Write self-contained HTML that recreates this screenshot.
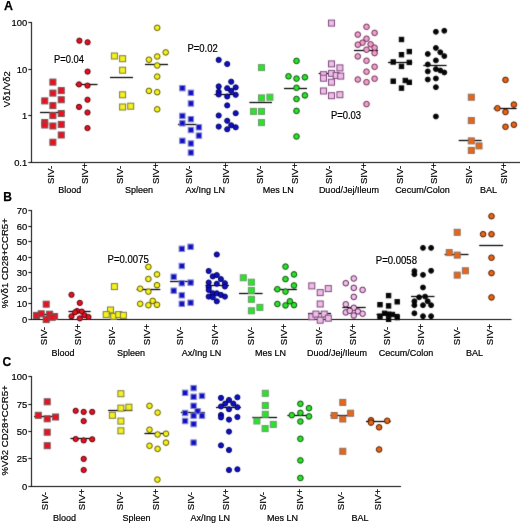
<!DOCTYPE html>
<html><head><meta charset="utf-8"><style>
html,body{margin:0;padding:0;background:#fff;}
body{width:520px;height:523px;overflow:hidden;font-family:"Liberation Sans", sans-serif;}
svg{display:block;}
</style></head><body>
<svg width="520" height="523" viewBox="0 0 520 523" font-family='"Liberation Sans", sans-serif'>
<defs><filter id="bl" x="0" y="0" width="520" height="523" filterUnits="userSpaceOnUse" color-interpolation-filters="sRGB"><feConvolveMatrix order="3" kernelMatrix="0.0144 0.0912 0.0144 0.0912 0.5776 0.0912 0.0144 0.0912 0.0144" divisor="1" edgeMode="duplicate" preserveAlpha="true"/></filter><filter id="tx" x="0" y="0" width="520" height="523" filterUnits="userSpaceOnUse" color-interpolation-filters="sRGB"><feConvolveMatrix order="3" kernelMatrix="0.0000 0.0000 0.0000 0.0000 1.0000 0.0000 0.0000 0.0000 0.0000" divisor="1" edgeMode="none" preserveAlpha="false"/></filter></defs>
<g filter="url(#bl)">
<rect width="520" height="523" fill="#ffffff"/>
<line x1="31.5" y1="22.0" x2="31.5" y2="163.0" stroke="#000000" stroke-width="1.0"/>
<line x1="31.0" y1="162.5" x2="520" y2="162.5" stroke="#000000" stroke-width="1.0"/>
<line x1="28.3" y1="22.5" x2="31.5" y2="22.5" stroke="#000000" stroke-width="1.0"/>
<line x1="28.3" y1="69.5" x2="31.5" y2="69.5" stroke="#000000" stroke-width="1.0"/>
<line x1="28.3" y1="115.5" x2="31.5" y2="115.5" stroke="#000000" stroke-width="1.0"/>
<line x1="28.3" y1="162.5" x2="31.5" y2="162.5" stroke="#000000" stroke-width="1.0"/>
<line x1="31.5" y1="210.0" x2="31.5" y2="320.0" stroke="#000000" stroke-width="1.0"/>
<line x1="31.0" y1="319.5" x2="511.5" y2="319.5" stroke="#000000" stroke-width="1.0"/>
<line x1="28.3" y1="319.5" x2="31.5" y2="319.5" stroke="#000000" stroke-width="1.0"/>
<line x1="28.3" y1="303.5" x2="31.5" y2="303.5" stroke="#000000" stroke-width="1.0"/>
<line x1="28.3" y1="288.5" x2="31.5" y2="288.5" stroke="#000000" stroke-width="1.0"/>
<line x1="28.3" y1="272.5" x2="31.5" y2="272.5" stroke="#000000" stroke-width="1.0"/>
<line x1="28.3" y1="257.5" x2="31.5" y2="257.5" stroke="#000000" stroke-width="1.0"/>
<line x1="28.3" y1="241.5" x2="31.5" y2="241.5" stroke="#000000" stroke-width="1.0"/>
<line x1="28.3" y1="226.5" x2="31.5" y2="226.5" stroke="#000000" stroke-width="1.0"/>
<line x1="28.3" y1="210.5" x2="31.5" y2="210.5" stroke="#000000" stroke-width="1.0"/>
<line x1="31.5" y1="376.0" x2="31.5" y2="487.0" stroke="#000000" stroke-width="1.0"/>
<line x1="31.0" y1="486.5" x2="401" y2="486.5" stroke="#000000" stroke-width="1.0"/>
<line x1="28.3" y1="486.5" x2="31.5" y2="486.5" stroke="#000000" stroke-width="1.0"/>
<line x1="28.3" y1="458.5" x2="31.5" y2="458.5" stroke="#000000" stroke-width="1.0"/>
<line x1="28.3" y1="431.5" x2="31.5" y2="431.5" stroke="#000000" stroke-width="1.0"/>
<line x1="28.3" y1="404.5" x2="31.5" y2="404.5" stroke="#000000" stroke-width="1.0"/>
<line x1="28.3" y1="376.5" x2="31.5" y2="376.5" stroke="#000000" stroke-width="1.0"/>
<line x1="40" y1="112.5" x2="64.4" y2="112.5" stroke="#000000" stroke-width="1.25"/>
<line x1="75.6" y1="84.5" x2="97.5" y2="84.5" stroke="#000000" stroke-width="1.25"/>
<line x1="110" y1="77.5" x2="133" y2="77.5" stroke="#000000" stroke-width="1.25"/>
<line x1="145" y1="64.5" x2="168" y2="64.5" stroke="#000000" stroke-width="1.25"/>
<line x1="178" y1="124.5" x2="197" y2="124.5" stroke="#000000" stroke-width="1.25"/>
<line x1="214.4" y1="94.5" x2="237" y2="94.5" stroke="#000000" stroke-width="1.25"/>
<line x1="249.4" y1="102.5" x2="272" y2="102.5" stroke="#000000" stroke-width="1.25"/>
<line x1="284" y1="88.5" x2="307" y2="88.5" stroke="#000000" stroke-width="1.25"/>
<line x1="318.7" y1="73.5" x2="338" y2="73.5" stroke="#000000" stroke-width="1.25"/>
<line x1="354" y1="50.5" x2="378" y2="50.5" stroke="#000000" stroke-width="1.25"/>
<line x1="388" y1="62.5" x2="412.3" y2="62.5" stroke="#000000" stroke-width="1.25"/>
<line x1="423.3" y1="65.5" x2="446.6" y2="65.5" stroke="#000000" stroke-width="1.25"/>
<line x1="458.7" y1="140.5" x2="481.6" y2="140.5" stroke="#000000" stroke-width="1.25"/>
<line x1="493.7" y1="108.5" x2="516.6" y2="108.5" stroke="#000000" stroke-width="1.25"/>
<rect x="49.90" y="79.10" width="6.0" height="6.0" fill="#ec1020" stroke="#6e5656" stroke-width="1"/>
<rect x="49.90" y="90.10" width="6.0" height="6.0" fill="#ec1020" stroke="#6e5656" stroke-width="1"/>
<rect x="58.25" y="87.60" width="6.0" height="6.0" fill="#ec1020" stroke="#6e5656" stroke-width="1"/>
<rect x="41.75" y="97.90" width="6.0" height="6.0" fill="#ec1020" stroke="#6e5656" stroke-width="1"/>
<rect x="58.25" y="96.75" width="6.0" height="6.0" fill="#ec1020" stroke="#6e5656" stroke-width="1"/>
<rect x="49.90" y="102.60" width="6.0" height="6.0" fill="#ec1020" stroke="#6e5656" stroke-width="1"/>
<rect x="49.90" y="112.60" width="6.0" height="6.0" fill="#ec1020" stroke="#6e5656" stroke-width="1"/>
<rect x="58.25" y="110.50" width="6.0" height="6.0" fill="#ec1020" stroke="#6e5656" stroke-width="1"/>
<rect x="41.75" y="119.50" width="6.0" height="6.0" fill="#ec1020" stroke="#6e5656" stroke-width="1"/>
<rect x="41.75" y="122.00" width="6.0" height="6.0" fill="#ec1020" stroke="#6e5656" stroke-width="1"/>
<rect x="49.90" y="123.00" width="6.0" height="6.0" fill="#ec1020" stroke="#6e5656" stroke-width="1"/>
<rect x="58.25" y="121.40" width="6.0" height="6.0" fill="#ec1020" stroke="#6e5656" stroke-width="1"/>
<rect x="58.25" y="132.00" width="6.0" height="6.0" fill="#ec1020" stroke="#6e5656" stroke-width="1"/>
<rect x="49.90" y="139.25" width="6.0" height="6.0" fill="#ec1020" stroke="#6e5656" stroke-width="1"/>
<circle cx="79.40" cy="40.70" r="2.6" fill="#ec1020" stroke="#500008" stroke-width="1"/>
<circle cx="87.60" cy="42.30" r="2.6" fill="#ec1020" stroke="#500008" stroke-width="1"/>
<circle cx="87.60" cy="71.60" r="2.6" fill="#ec1020" stroke="#500008" stroke-width="1"/>
<circle cx="79.00" cy="84.40" r="2.6" fill="#ec1020" stroke="#500008" stroke-width="1"/>
<circle cx="87.50" cy="85.60" r="2.6" fill="#ec1020" stroke="#500008" stroke-width="1"/>
<circle cx="87.50" cy="99.75" r="2.6" fill="#ec1020" stroke="#500008" stroke-width="1"/>
<circle cx="79.00" cy="106.90" r="2.6" fill="#ec1020" stroke="#500008" stroke-width="1"/>
<circle cx="87.50" cy="112.50" r="2.6" fill="#ec1020" stroke="#500008" stroke-width="1"/>
<circle cx="87.50" cy="128.10" r="2.6" fill="#ec1020" stroke="#500008" stroke-width="1"/>
<rect x="111.40" y="53.00" width="6.0" height="6.0" fill="#f6f21a" stroke="#7a7a40" stroke-width="1"/>
<rect x="119.60" y="55.70" width="6.0" height="6.0" fill="#f6f21a" stroke="#7a7a40" stroke-width="1"/>
<rect x="119.60" y="67.20" width="6.0" height="6.0" fill="#f6f21a" stroke="#7a7a40" stroke-width="1"/>
<rect x="119.60" y="91.80" width="6.0" height="6.0" fill="#f6f21a" stroke="#7a7a40" stroke-width="1"/>
<rect x="119.60" y="104.00" width="6.0" height="6.0" fill="#f6f21a" stroke="#7a7a40" stroke-width="1"/>
<rect x="127.70" y="103.20" width="6.0" height="6.0" fill="#f6f21a" stroke="#7a7a40" stroke-width="1"/>
<circle cx="157.20" cy="27.80" r="2.8" fill="#f6f21a" stroke="#5a5600" stroke-width="1"/>
<circle cx="165.70" cy="52.40" r="2.8" fill="#f6f21a" stroke="#5a5600" stroke-width="1"/>
<circle cx="157.20" cy="56.50" r="2.8" fill="#f6f21a" stroke="#5a5600" stroke-width="1"/>
<circle cx="148.90" cy="59.70" r="2.8" fill="#f6f21a" stroke="#5a5600" stroke-width="1"/>
<circle cx="157.20" cy="65.50" r="2.8" fill="#f6f21a" stroke="#5a5600" stroke-width="1"/>
<circle cx="157.20" cy="76.60" r="2.8" fill="#f6f21a" stroke="#5a5600" stroke-width="1"/>
<circle cx="148.90" cy="90.90" r="2.8" fill="#f6f21a" stroke="#5a5600" stroke-width="1"/>
<circle cx="157.20" cy="92.20" r="2.8" fill="#f6f21a" stroke="#5a5600" stroke-width="1"/>
<circle cx="157.20" cy="109.30" r="2.8" fill="#f6f21a" stroke="#5a5600" stroke-width="1"/>
<rect x="179.70" y="85.50" width="5.4" height="5.4" fill="#1010c4" stroke="#8484d0" stroke-width="1"/>
<rect x="188.20" y="90.10" width="5.4" height="5.4" fill="#1010c4" stroke="#8484d0" stroke-width="1"/>
<rect x="188.20" y="100.80" width="5.4" height="5.4" fill="#1010c4" stroke="#8484d0" stroke-width="1"/>
<rect x="179.70" y="113.20" width="5.4" height="5.4" fill="#1010c4" stroke="#8484d0" stroke-width="1"/>
<rect x="188.20" y="116.50" width="5.4" height="5.4" fill="#1010c4" stroke="#8484d0" stroke-width="1"/>
<rect x="179.70" y="120.60" width="5.4" height="5.4" fill="#1010c4" stroke="#8484d0" stroke-width="1"/>
<rect x="196.20" y="124.60" width="5.4" height="5.4" fill="#1010c4" stroke="#8484d0" stroke-width="1"/>
<rect x="188.20" y="127.30" width="5.4" height="5.4" fill="#1010c4" stroke="#8484d0" stroke-width="1"/>
<rect x="196.20" y="132.90" width="5.4" height="5.4" fill="#1010c4" stroke="#8484d0" stroke-width="1"/>
<rect x="179.70" y="138.10" width="5.4" height="5.4" fill="#1010c4" stroke="#8484d0" stroke-width="1"/>
<rect x="188.20" y="140.80" width="5.4" height="5.4" fill="#1010c4" stroke="#8484d0" stroke-width="1"/>
<rect x="188.20" y="149.90" width="5.4" height="5.4" fill="#1010c4" stroke="#8484d0" stroke-width="1"/>
<circle cx="218.70" cy="59.90" r="2.55" fill="#1010c4" stroke="#000060" stroke-width="1"/>
<circle cx="227.20" cy="64.00" r="2.55" fill="#1010c4" stroke="#000060" stroke-width="1"/>
<circle cx="231.20" cy="81.70" r="2.55" fill="#1010c4" stroke="#000060" stroke-width="1"/>
<circle cx="218.70" cy="86.40" r="2.55" fill="#1010c4" stroke="#000060" stroke-width="1"/>
<circle cx="235.70" cy="87.40" r="2.55" fill="#1010c4" stroke="#000060" stroke-width="1"/>
<circle cx="227.20" cy="88.20" r="2.55" fill="#1010c4" stroke="#000060" stroke-width="1"/>
<circle cx="231.20" cy="90.90" r="2.55" fill="#1010c4" stroke="#000060" stroke-width="1"/>
<circle cx="218.70" cy="91.80" r="2.55" fill="#1010c4" stroke="#000060" stroke-width="1"/>
<circle cx="218.70" cy="94.50" r="2.55" fill="#1010c4" stroke="#000060" stroke-width="1"/>
<circle cx="235.70" cy="94.80" r="2.55" fill="#1010c4" stroke="#000060" stroke-width="1"/>
<circle cx="227.20" cy="96.50" r="2.55" fill="#1010c4" stroke="#000060" stroke-width="1"/>
<circle cx="227.20" cy="105.40" r="2.55" fill="#1010c4" stroke="#000060" stroke-width="1"/>
<circle cx="235.70" cy="113.20" r="2.55" fill="#1010c4" stroke="#000060" stroke-width="1"/>
<circle cx="218.70" cy="115.50" r="2.55" fill="#1010c4" stroke="#000060" stroke-width="1"/>
<circle cx="227.20" cy="120.80" r="2.55" fill="#1010c4" stroke="#000060" stroke-width="1"/>
<circle cx="231.20" cy="125.30" r="2.55" fill="#1010c4" stroke="#000060" stroke-width="1"/>
<circle cx="218.70" cy="126.60" r="2.55" fill="#1010c4" stroke="#000060" stroke-width="1"/>
<circle cx="235.70" cy="127.30" r="2.55" fill="#1010c4" stroke="#000060" stroke-width="1"/>
<circle cx="227.20" cy="129.30" r="2.55" fill="#1010c4" stroke="#000060" stroke-width="1"/>
<rect x="258.50" y="64.60" width="6.0" height="6.0" fill="#2ae42a" stroke="#6a9a6a" stroke-width="1"/>
<rect x="258.50" y="94.90" width="6.0" height="6.0" fill="#2ae42a" stroke="#6a9a6a" stroke-width="1"/>
<rect x="266.90" y="94.20" width="6.0" height="6.0" fill="#2ae42a" stroke="#6a9a6a" stroke-width="1"/>
<rect x="250.50" y="108.40" width="6.0" height="6.0" fill="#2ae42a" stroke="#6a9a6a" stroke-width="1"/>
<rect x="258.50" y="108.40" width="6.0" height="6.0" fill="#2ae42a" stroke="#6a9a6a" stroke-width="1"/>
<rect x="258.50" y="119.60" width="6.0" height="6.0" fill="#2ae42a" stroke="#6a9a6a" stroke-width="1"/>
<circle cx="296.50" cy="60.90" r="2.8" fill="#2ae42a" stroke="#0a4a0a" stroke-width="1"/>
<circle cx="288.50" cy="76.30" r="2.8" fill="#2ae42a" stroke="#0a4a0a" stroke-width="1"/>
<circle cx="296.50" cy="78.60" r="2.8" fill="#2ae42a" stroke="#0a4a0a" stroke-width="1"/>
<circle cx="304.90" cy="77.30" r="2.8" fill="#2ae42a" stroke="#0a4a0a" stroke-width="1"/>
<circle cx="296.50" cy="87.80" r="2.8" fill="#2ae42a" stroke="#0a4a0a" stroke-width="1"/>
<circle cx="304.90" cy="95.40" r="2.8" fill="#2ae42a" stroke="#0a4a0a" stroke-width="1"/>
<circle cx="296.50" cy="99.00" r="2.8" fill="#2ae42a" stroke="#0a4a0a" stroke-width="1"/>
<circle cx="296.50" cy="110.90" r="2.8" fill="#2ae42a" stroke="#0a4a0a" stroke-width="1"/>
<circle cx="296.50" cy="136.50" r="2.8" fill="#2ae42a" stroke="#0a4a0a" stroke-width="1"/>
<rect x="328.50" y="20.10" width="6.0" height="6.0" fill="#f0bce8" stroke="#7a4a7a" stroke-width="1"/>
<rect x="328.50" y="60.90" width="6.0" height="6.0" fill="#f0bce8" stroke="#7a4a7a" stroke-width="1"/>
<rect x="336.90" y="64.90" width="6.0" height="6.0" fill="#f0bce8" stroke="#7a4a7a" stroke-width="1"/>
<rect x="320.50" y="71.70" width="6.0" height="6.0" fill="#f0bce8" stroke="#7a4a7a" stroke-width="1"/>
<rect x="320.50" y="75.20" width="6.0" height="6.0" fill="#f0bce8" stroke="#7a4a7a" stroke-width="1"/>
<rect x="328.50" y="70.40" width="6.0" height="6.0" fill="#f0bce8" stroke="#7a4a7a" stroke-width="1"/>
<rect x="333.20" y="72.40" width="6.0" height="6.0" fill="#f0bce8" stroke="#7a4a7a" stroke-width="1"/>
<rect x="337.70" y="73.10" width="6.0" height="6.0" fill="#f0bce8" stroke="#7a4a7a" stroke-width="1"/>
<rect x="328.50" y="79.20" width="6.0" height="6.0" fill="#f0bce8" stroke="#7a4a7a" stroke-width="1"/>
<rect x="320.50" y="88.00" width="6.0" height="6.0" fill="#f0bce8" stroke="#7a4a7a" stroke-width="1"/>
<rect x="328.50" y="92.70" width="6.0" height="6.0" fill="#f0bce8" stroke="#7a4a7a" stroke-width="1"/>
<rect x="336.90" y="91.70" width="6.0" height="6.0" fill="#f0bce8" stroke="#7a4a7a" stroke-width="1"/>
<circle cx="366.50" cy="26.80" r="2.8" fill="#eea0cc" stroke="#6a2a50" stroke-width="1"/>
<circle cx="357.80" cy="34.60" r="2.8" fill="#eea0cc" stroke="#6a2a50" stroke-width="1"/>
<circle cx="374.60" cy="32.90" r="2.8" fill="#eea0cc" stroke="#6a2a50" stroke-width="1"/>
<circle cx="366.50" cy="38.70" r="2.8" fill="#eea0cc" stroke="#6a2a50" stroke-width="1"/>
<circle cx="362.50" cy="42.70" r="2.8" fill="#eea0cc" stroke="#6a2a50" stroke-width="1"/>
<circle cx="357.80" cy="44.70" r="2.8" fill="#eea0cc" stroke="#6a2a50" stroke-width="1"/>
<circle cx="370.60" cy="44.30" r="2.8" fill="#eea0cc" stroke="#6a2a50" stroke-width="1"/>
<circle cx="374.60" cy="47.70" r="2.8" fill="#eea0cc" stroke="#6a2a50" stroke-width="1"/>
<circle cx="366.50" cy="49.70" r="2.8" fill="#eea0cc" stroke="#6a2a50" stroke-width="1"/>
<circle cx="374.60" cy="53.10" r="2.8" fill="#eea0cc" stroke="#6a2a50" stroke-width="1"/>
<circle cx="357.80" cy="56.40" r="2.8" fill="#eea0cc" stroke="#6a2a50" stroke-width="1"/>
<circle cx="366.50" cy="60.70" r="2.8" fill="#eea0cc" stroke="#6a2a50" stroke-width="1"/>
<circle cx="374.60" cy="66.80" r="2.8" fill="#eea0cc" stroke="#6a2a50" stroke-width="1"/>
<circle cx="366.50" cy="71.70" r="2.8" fill="#eea0cc" stroke="#6a2a50" stroke-width="1"/>
<circle cx="357.80" cy="79.50" r="2.8" fill="#eea0cc" stroke="#6a2a50" stroke-width="1"/>
<circle cx="374.60" cy="78.70" r="2.8" fill="#eea0cc" stroke="#6a2a50" stroke-width="1"/>
<circle cx="366.50" cy="82.20" r="2.8" fill="#eea0cc" stroke="#6a2a50" stroke-width="1"/>
<circle cx="366.50" cy="104.10" r="2.8" fill="#eea0cc" stroke="#6a2a50" stroke-width="1"/>
<rect x="399.30" y="37.30" width="4.4" height="4.4" fill="#050505" stroke="#050505" stroke-width="1"/>
<rect x="407.10" y="49.40" width="4.4" height="4.4" fill="#050505" stroke="#050505" stroke-width="1"/>
<rect x="399.30" y="52.50" width="4.4" height="4.4" fill="#050505" stroke="#050505" stroke-width="1"/>
<rect x="391.00" y="59.80" width="4.4" height="4.4" fill="#050505" stroke="#050505" stroke-width="1"/>
<rect x="407.10" y="60.20" width="4.4" height="4.4" fill="#050505" stroke="#050505" stroke-width="1"/>
<rect x="399.30" y="64.20" width="4.4" height="4.4" fill="#050505" stroke="#050505" stroke-width="1"/>
<rect x="391.00" y="79.00" width="4.4" height="4.4" fill="#050505" stroke="#050505" stroke-width="1"/>
<rect x="403.10" y="78.30" width="4.4" height="4.4" fill="#050505" stroke="#050505" stroke-width="1"/>
<rect x="407.10" y="80.10" width="4.4" height="4.4" fill="#050505" stroke="#050505" stroke-width="1"/>
<rect x="399.30" y="85.90" width="4.4" height="4.4" fill="#050505" stroke="#050505" stroke-width="1"/>
<circle cx="435.90" cy="31.80" r="2.45" fill="#050505" stroke="#050505" stroke-width="1"/>
<circle cx="444.30" cy="30.80" r="2.45" fill="#050505" stroke="#050505" stroke-width="1"/>
<circle cx="435.90" cy="48.00" r="2.45" fill="#050505" stroke="#050505" stroke-width="1"/>
<circle cx="427.80" cy="54.00" r="2.45" fill="#050505" stroke="#050505" stroke-width="1"/>
<circle cx="440.30" cy="52.30" r="2.45" fill="#050505" stroke="#050505" stroke-width="1"/>
<circle cx="444.30" cy="56.10" r="2.45" fill="#050505" stroke="#050505" stroke-width="1"/>
<circle cx="435.90" cy="60.40" r="2.45" fill="#050505" stroke="#050505" stroke-width="1"/>
<circle cx="427.80" cy="64.40" r="2.45" fill="#050505" stroke="#050505" stroke-width="1"/>
<circle cx="435.90" cy="69.10" r="2.45" fill="#050505" stroke="#050505" stroke-width="1"/>
<circle cx="440.30" cy="70.50" r="2.45" fill="#050505" stroke="#050505" stroke-width="1"/>
<circle cx="444.30" cy="72.50" r="2.45" fill="#050505" stroke="#050505" stroke-width="1"/>
<circle cx="427.80" cy="71.40" r="2.45" fill="#050505" stroke="#050505" stroke-width="1"/>
<circle cx="427.80" cy="79.50" r="2.45" fill="#050505" stroke="#050505" stroke-width="1"/>
<circle cx="435.90" cy="78.50" r="2.45" fill="#050505" stroke="#050505" stroke-width="1"/>
<circle cx="435.90" cy="87.20" r="2.45" fill="#050505" stroke="#050505" stroke-width="1"/>
<circle cx="435.90" cy="116.50" r="2.45" fill="#050505" stroke="#050505" stroke-width="1"/>
<rect x="468.30" y="94.20" width="6.0" height="6.0" fill="#ec6414" stroke="#8a7060" stroke-width="1"/>
<rect x="468.30" y="117.60" width="6.0" height="6.0" fill="#ec6414" stroke="#8a7060" stroke-width="1"/>
<rect x="468.30" y="137.90" width="6.0" height="6.0" fill="#ec6414" stroke="#8a7060" stroke-width="1"/>
<rect x="476.00" y="142.90" width="6.0" height="6.0" fill="#ec6414" stroke="#8a7060" stroke-width="1"/>
<rect x="468.30" y="147.40" width="6.0" height="6.0" fill="#ec6414" stroke="#8a7060" stroke-width="1"/>
<circle cx="505.50" cy="79.90" r="2.8" fill="#ec6414" stroke="#4a1a00" stroke-width="1"/>
<circle cx="513.90" cy="104.60" r="2.8" fill="#ec6414" stroke="#4a1a00" stroke-width="1"/>
<circle cx="497.40" cy="108.30" r="2.8" fill="#ec6414" stroke="#4a1a00" stroke-width="1"/>
<circle cx="505.50" cy="112.00" r="2.8" fill="#ec6414" stroke="#4a1a00" stroke-width="1"/>
<circle cx="505.50" cy="126.80" r="2.8" fill="#ec6414" stroke="#4a1a00" stroke-width="1"/>
<circle cx="513.90" cy="124.70" r="2.8" fill="#ec6414" stroke="#4a1a00" stroke-width="1"/>
<line x1="33" y1="314.5" x2="57" y2="314.5" stroke="#000000" stroke-width="1.25"/>
<line x1="68.4" y1="311.5" x2="90.6" y2="311.5" stroke="#000000" stroke-width="1.25"/>
<line x1="102.9" y1="313.5" x2="126" y2="313.5" stroke="#000000" stroke-width="1.25"/>
<line x1="136.6" y1="289.5" x2="160.3" y2="289.5" stroke="#000000" stroke-width="1.25"/>
<line x1="170" y1="281.5" x2="194" y2="281.5" stroke="#000000" stroke-width="1.25"/>
<line x1="205.4" y1="285.5" x2="229" y2="285.5" stroke="#000000" stroke-width="1.25"/>
<line x1="239" y1="293.5" x2="262.6" y2="293.5" stroke="#000000" stroke-width="1.25"/>
<line x1="273.8" y1="289.5" x2="296.9" y2="289.5" stroke="#000000" stroke-width="1.25"/>
<line x1="308" y1="313.5" x2="331" y2="313.5" stroke="#000000" stroke-width="1.25"/>
<line x1="342.4" y1="307.5" x2="365.7" y2="307.5" stroke="#000000" stroke-width="1.25"/>
<line x1="376.5" y1="314.5" x2="399.6" y2="314.5" stroke="#000000" stroke-width="1.25"/>
<line x1="411" y1="296.5" x2="434.5" y2="296.5" stroke="#000000" stroke-width="1.25"/>
<line x1="444.6" y1="254.5" x2="468.5" y2="254.5" stroke="#000000" stroke-width="1.25"/>
<line x1="479.2" y1="245.5" x2="503.1" y2="245.5" stroke="#000000" stroke-width="1.25"/>
<rect x="43.20" y="301.20" width="6.0" height="6.0" fill="#ec1020" stroke="#6e5656" stroke-width="1"/>
<rect x="33.50" y="312.40" width="6.0" height="6.0" fill="#ec1020" stroke="#6e5656" stroke-width="1"/>
<rect x="38.20" y="310.80" width="6.0" height="6.0" fill="#ec1020" stroke="#6e5656" stroke-width="1"/>
<rect x="43.20" y="316.60" width="6.0" height="6.0" fill="#ec1020" stroke="#6e5656" stroke-width="1"/>
<rect x="46.60" y="311.20" width="6.0" height="6.0" fill="#ec1020" stroke="#6e5656" stroke-width="1"/>
<rect x="51.60" y="313.50" width="6.0" height="6.0" fill="#ec1020" stroke="#6e5656" stroke-width="1"/>
<rect x="49.30" y="314.30" width="6.0" height="6.0" fill="#ec1020" stroke="#6e5656" stroke-width="1"/>
<circle cx="71.50" cy="294.80" r="2.6" fill="#ec1020" stroke="#500008" stroke-width="1"/>
<circle cx="79.80" cy="302.90" r="2.6" fill="#ec1020" stroke="#500008" stroke-width="1"/>
<circle cx="77.10" cy="311.00" r="2.6" fill="#ec1020" stroke="#500008" stroke-width="1"/>
<circle cx="81.80" cy="311.60" r="2.6" fill="#ec1020" stroke="#500008" stroke-width="1"/>
<circle cx="71.50" cy="316.30" r="2.6" fill="#ec1020" stroke="#500008" stroke-width="1"/>
<circle cx="79.80" cy="318.40" r="2.6" fill="#ec1020" stroke="#500008" stroke-width="1"/>
<circle cx="84.50" cy="315.30" r="2.6" fill="#ec1020" stroke="#500008" stroke-width="1"/>
<circle cx="88.50" cy="317.00" r="2.6" fill="#ec1020" stroke="#500008" stroke-width="1"/>
<circle cx="75.10" cy="312.30" r="2.6" fill="#ec1020" stroke="#500008" stroke-width="1"/>
<rect x="111.40" y="283.60" width="6.0" height="6.0" fill="#f6f21a" stroke="#7a7a40" stroke-width="1"/>
<rect x="107.50" y="307.00" width="6.0" height="6.0" fill="#f6f21a" stroke="#7a7a40" stroke-width="1"/>
<rect x="103.20" y="311.60" width="6.0" height="6.0" fill="#f6f21a" stroke="#7a7a40" stroke-width="1"/>
<rect x="110.70" y="313.30" width="6.0" height="6.0" fill="#f6f21a" stroke="#7a7a40" stroke-width="1"/>
<rect x="115.70" y="311.60" width="6.0" height="6.0" fill="#f6f21a" stroke="#7a7a40" stroke-width="1"/>
<rect x="120.40" y="312.30" width="6.0" height="6.0" fill="#f6f21a" stroke="#7a7a40" stroke-width="1"/>
<circle cx="148.40" cy="266.90" r="2.8" fill="#f6f21a" stroke="#5a5600" stroke-width="1"/>
<circle cx="157.00" cy="274.40" r="2.8" fill="#f6f21a" stroke="#5a5600" stroke-width="1"/>
<circle cx="148.40" cy="279.00" r="2.8" fill="#f6f21a" stroke="#5a5600" stroke-width="1"/>
<circle cx="157.00" cy="285.20" r="2.8" fill="#f6f21a" stroke="#5a5600" stroke-width="1"/>
<circle cx="140.20" cy="288.70" r="2.8" fill="#f6f21a" stroke="#5a5600" stroke-width="1"/>
<circle cx="148.40" cy="291.60" r="2.8" fill="#f6f21a" stroke="#5a5600" stroke-width="1"/>
<circle cx="140.20" cy="303.80" r="2.8" fill="#f6f21a" stroke="#5a5600" stroke-width="1"/>
<circle cx="148.40" cy="305.20" r="2.8" fill="#f6f21a" stroke="#5a5600" stroke-width="1"/>
<circle cx="152.70" cy="300.90" r="2.8" fill="#f6f21a" stroke="#5a5600" stroke-width="1"/>
<circle cx="157.00" cy="304.80" r="2.8" fill="#f6f21a" stroke="#5a5600" stroke-width="1"/>
<rect x="179.10" y="246.10" width="5.4" height="5.4" fill="#1010c4" stroke="#8484d0" stroke-width="1"/>
<rect x="187.90" y="244.10" width="5.4" height="5.4" fill="#1010c4" stroke="#8484d0" stroke-width="1"/>
<rect x="179.10" y="263.30" width="5.4" height="5.4" fill="#1010c4" stroke="#8484d0" stroke-width="1"/>
<rect x="171.00" y="274.10" width="5.4" height="5.4" fill="#1010c4" stroke="#8484d0" stroke-width="1"/>
<rect x="179.10" y="280.50" width="5.4" height="5.4" fill="#1010c4" stroke="#8484d0" stroke-width="1"/>
<rect x="187.90" y="279.90" width="5.4" height="5.4" fill="#1010c4" stroke="#8484d0" stroke-width="1"/>
<rect x="171.00" y="288.00" width="5.4" height="5.4" fill="#1010c4" stroke="#8484d0" stroke-width="1"/>
<rect x="179.10" y="292.60" width="5.4" height="5.4" fill="#1010c4" stroke="#8484d0" stroke-width="1"/>
<rect x="179.10" y="301.10" width="5.4" height="5.4" fill="#1010c4" stroke="#8484d0" stroke-width="1"/>
<rect x="187.90" y="300.00" width="5.4" height="5.4" fill="#1010c4" stroke="#8484d0" stroke-width="1"/>
<circle cx="216.80" cy="254.50" r="2.55" fill="#1010c4" stroke="#000060" stroke-width="1"/>
<circle cx="208.70" cy="271.00" r="2.55" fill="#1010c4" stroke="#000060" stroke-width="1"/>
<circle cx="212.80" cy="276.40" r="2.55" fill="#1010c4" stroke="#000060" stroke-width="1"/>
<circle cx="216.80" cy="275.10" r="2.55" fill="#1010c4" stroke="#000060" stroke-width="1"/>
<circle cx="220.90" cy="279.10" r="2.55" fill="#1010c4" stroke="#000060" stroke-width="1"/>
<circle cx="208.70" cy="282.50" r="2.55" fill="#1010c4" stroke="#000060" stroke-width="1"/>
<circle cx="224.90" cy="283.20" r="2.55" fill="#1010c4" stroke="#000060" stroke-width="1"/>
<circle cx="216.80" cy="283.80" r="2.55" fill="#1010c4" stroke="#000060" stroke-width="1"/>
<circle cx="208.70" cy="287.20" r="2.55" fill="#1010c4" stroke="#000060" stroke-width="1"/>
<circle cx="224.90" cy="286.50" r="2.55" fill="#1010c4" stroke="#000060" stroke-width="1"/>
<circle cx="208.70" cy="289.90" r="2.55" fill="#1010c4" stroke="#000060" stroke-width="1"/>
<circle cx="212.80" cy="293.30" r="2.55" fill="#1010c4" stroke="#000060" stroke-width="1"/>
<circle cx="216.80" cy="293.30" r="2.55" fill="#1010c4" stroke="#000060" stroke-width="1"/>
<circle cx="220.90" cy="294.90" r="2.55" fill="#1010c4" stroke="#000060" stroke-width="1"/>
<circle cx="208.70" cy="296.60" r="2.55" fill="#1010c4" stroke="#000060" stroke-width="1"/>
<circle cx="224.90" cy="296.60" r="2.55" fill="#1010c4" stroke="#000060" stroke-width="1"/>
<circle cx="212.80" cy="297.30" r="2.55" fill="#1010c4" stroke="#000060" stroke-width="1"/>
<circle cx="216.80" cy="301.30" r="2.55" fill="#1010c4" stroke="#000060" stroke-width="1"/>
<rect x="240.30" y="274.80" width="6.0" height="6.0" fill="#2ae42a" stroke="#6a9a6a" stroke-width="1"/>
<rect x="248.40" y="279.20" width="6.0" height="6.0" fill="#2ae42a" stroke="#6a9a6a" stroke-width="1"/>
<rect x="248.40" y="287.60" width="6.0" height="6.0" fill="#2ae42a" stroke="#6a9a6a" stroke-width="1"/>
<rect x="248.40" y="296.30" width="6.0" height="6.0" fill="#2ae42a" stroke="#6a9a6a" stroke-width="1"/>
<rect x="256.90" y="304.40" width="6.0" height="6.0" fill="#2ae42a" stroke="#6a9a6a" stroke-width="1"/>
<rect x="248.40" y="307.80" width="6.0" height="6.0" fill="#2ae42a" stroke="#6a9a6a" stroke-width="1"/>
<circle cx="285.50" cy="266.60" r="2.8" fill="#2ae42a" stroke="#0a4a0a" stroke-width="1"/>
<circle cx="294.00" cy="274.40" r="2.8" fill="#2ae42a" stroke="#0a4a0a" stroke-width="1"/>
<circle cx="285.50" cy="279.10" r="2.8" fill="#2ae42a" stroke="#0a4a0a" stroke-width="1"/>
<circle cx="294.00" cy="285.50" r="2.8" fill="#2ae42a" stroke="#0a4a0a" stroke-width="1"/>
<circle cx="277.40" cy="289.20" r="2.8" fill="#2ae42a" stroke="#0a4a0a" stroke-width="1"/>
<circle cx="285.50" cy="291.60" r="2.8" fill="#2ae42a" stroke="#0a4a0a" stroke-width="1"/>
<circle cx="277.40" cy="304.00" r="2.8" fill="#2ae42a" stroke="#0a4a0a" stroke-width="1"/>
<circle cx="285.50" cy="305.40" r="2.8" fill="#2ae42a" stroke="#0a4a0a" stroke-width="1"/>
<circle cx="289.90" cy="301.30" r="2.8" fill="#2ae42a" stroke="#0a4a0a" stroke-width="1"/>
<circle cx="294.00" cy="305.10" r="2.8" fill="#2ae42a" stroke="#0a4a0a" stroke-width="1"/>
<rect x="308.80" y="282.90" width="6.0" height="6.0" fill="#f0bce8" stroke="#7a4a7a" stroke-width="1"/>
<rect x="317.20" y="289.60" width="6.0" height="6.0" fill="#f0bce8" stroke="#7a4a7a" stroke-width="1"/>
<rect x="325.30" y="285.60" width="6.0" height="6.0" fill="#f0bce8" stroke="#7a4a7a" stroke-width="1"/>
<rect x="317.20" y="301.00" width="6.0" height="6.0" fill="#f0bce8" stroke="#7a4a7a" stroke-width="1"/>
<rect x="308.80" y="313.80" width="6.0" height="6.0" fill="#f0bce8" stroke="#7a4a7a" stroke-width="1"/>
<rect x="312.90" y="311.10" width="6.0" height="6.0" fill="#f0bce8" stroke="#7a4a7a" stroke-width="1"/>
<rect x="321.20" y="311.10" width="6.0" height="6.0" fill="#f0bce8" stroke="#7a4a7a" stroke-width="1"/>
<rect x="317.20" y="317.20" width="6.0" height="6.0" fill="#f0bce8" stroke="#7a4a7a" stroke-width="1"/>
<rect x="325.30" y="315.20" width="6.0" height="6.0" fill="#f0bce8" stroke="#7a4a7a" stroke-width="1"/>
<circle cx="353.80" cy="278.50" r="2.8" fill="#f0c0ea" stroke="#5a2250" stroke-width="1"/>
<circle cx="345.80" cy="283.20" r="2.8" fill="#f0c0ea" stroke="#5a2250" stroke-width="1"/>
<circle cx="353.80" cy="287.90" r="2.8" fill="#f0c0ea" stroke="#5a2250" stroke-width="1"/>
<circle cx="362.60" cy="289.90" r="2.8" fill="#f0c0ea" stroke="#5a2250" stroke-width="1"/>
<circle cx="353.80" cy="296.90" r="2.8" fill="#f0c0ea" stroke="#5a2250" stroke-width="1"/>
<circle cx="345.80" cy="304.30" r="2.8" fill="#f0c0ea" stroke="#5a2250" stroke-width="1"/>
<circle cx="353.80" cy="307.80" r="2.8" fill="#f0c0ea" stroke="#5a2250" stroke-width="1"/>
<circle cx="345.80" cy="312.40" r="2.8" fill="#f0c0ea" stroke="#5a2250" stroke-width="1"/>
<circle cx="349.80" cy="310.80" r="2.8" fill="#f0c0ea" stroke="#5a2250" stroke-width="1"/>
<circle cx="357.90" cy="311.40" r="2.8" fill="#f0c0ea" stroke="#5a2250" stroke-width="1"/>
<circle cx="362.60" cy="313.70" r="2.8" fill="#f0c0ea" stroke="#5a2250" stroke-width="1"/>
<circle cx="353.80" cy="315.50" r="2.8" fill="#f0c0ea" stroke="#5a2250" stroke-width="1"/>
<rect x="386.40" y="293.40" width="4.4" height="4.4" fill="#050505" stroke="#050505" stroke-width="1"/>
<rect x="395.00" y="299.60" width="4.4" height="4.4" fill="#050505" stroke="#050505" stroke-width="1"/>
<rect x="377.80" y="302.50" width="4.4" height="4.4" fill="#050505" stroke="#050505" stroke-width="1"/>
<rect x="386.40" y="303.70" width="4.4" height="4.4" fill="#050505" stroke="#050505" stroke-width="1"/>
<rect x="382.40" y="311.10" width="4.4" height="4.4" fill="#050505" stroke="#050505" stroke-width="1"/>
<rect x="386.40" y="312.00" width="4.4" height="4.4" fill="#050505" stroke="#050505" stroke-width="1"/>
<rect x="390.20" y="312.30" width="4.4" height="4.4" fill="#050505" stroke="#050505" stroke-width="1"/>
<rect x="377.80" y="314.00" width="4.4" height="4.4" fill="#050505" stroke="#050505" stroke-width="1"/>
<rect x="386.40" y="317.10" width="4.4" height="4.4" fill="#050505" stroke="#050505" stroke-width="1"/>
<rect x="395.00" y="315.40" width="4.4" height="4.4" fill="#050505" stroke="#050505" stroke-width="1"/>
<circle cx="423.00" cy="247.90" r="2.45" fill="#050505" stroke="#050505" stroke-width="1"/>
<circle cx="431.10" cy="247.90" r="2.45" fill="#050505" stroke="#050505" stroke-width="1"/>
<circle cx="414.40" cy="271.10" r="2.45" fill="#050505" stroke="#050505" stroke-width="1"/>
<circle cx="414.40" cy="274.20" r="2.45" fill="#050505" stroke="#050505" stroke-width="1"/>
<circle cx="423.00" cy="274.90" r="2.45" fill="#050505" stroke="#050505" stroke-width="1"/>
<circle cx="431.10" cy="270.80" r="2.45" fill="#050505" stroke="#050505" stroke-width="1"/>
<circle cx="423.00" cy="287.50" r="2.45" fill="#050505" stroke="#050505" stroke-width="1"/>
<circle cx="419.10" cy="297.30" r="2.45" fill="#050505" stroke="#050505" stroke-width="1"/>
<circle cx="425.10" cy="296.60" r="2.45" fill="#050505" stroke="#050505" stroke-width="1"/>
<circle cx="414.40" cy="301.30" r="2.45" fill="#050505" stroke="#050505" stroke-width="1"/>
<circle cx="427.70" cy="301.30" r="2.45" fill="#050505" stroke="#050505" stroke-width="1"/>
<circle cx="414.40" cy="305.20" r="2.45" fill="#050505" stroke="#050505" stroke-width="1"/>
<circle cx="423.00" cy="305.20" r="2.45" fill="#050505" stroke="#050505" stroke-width="1"/>
<circle cx="431.10" cy="305.20" r="2.45" fill="#050505" stroke="#050505" stroke-width="1"/>
<circle cx="414.40" cy="313.30" r="2.45" fill="#050505" stroke="#050505" stroke-width="1"/>
<circle cx="423.00" cy="316.20" r="2.45" fill="#050505" stroke="#050505" stroke-width="1"/>
<circle cx="431.10" cy="316.20" r="2.45" fill="#050505" stroke="#050505" stroke-width="1"/>
<rect x="454.20" y="229.30" width="6.0" height="6.0" fill="#ec6414" stroke="#8a7060" stroke-width="1"/>
<rect x="446.20" y="249.60" width="6.0" height="6.0" fill="#ec6414" stroke="#8a7060" stroke-width="1"/>
<rect x="454.20" y="252.10" width="6.0" height="6.0" fill="#ec6414" stroke="#8a7060" stroke-width="1"/>
<rect x="462.40" y="267.80" width="6.0" height="6.0" fill="#ec6414" stroke="#8a7060" stroke-width="1"/>
<rect x="454.20" y="272.10" width="6.0" height="6.0" fill="#ec6414" stroke="#8a7060" stroke-width="1"/>
<circle cx="491.50" cy="216.20" r="2.8" fill="#ec6414" stroke="#4a1a00" stroke-width="1"/>
<circle cx="483.10" cy="234.20" r="2.8" fill="#ec6414" stroke="#4a1a00" stroke-width="1"/>
<circle cx="491.50" cy="234.20" r="2.8" fill="#ec6414" stroke="#4a1a00" stroke-width="1"/>
<circle cx="491.50" cy="257.70" r="2.8" fill="#ec6414" stroke="#4a1a00" stroke-width="1"/>
<circle cx="491.50" cy="273.10" r="2.8" fill="#ec6414" stroke="#4a1a00" stroke-width="1"/>
<circle cx="491.50" cy="297.40" r="2.8" fill="#ec6414" stroke="#4a1a00" stroke-width="1"/>
<line x1="34" y1="416.5" x2="58.3" y2="416.5" stroke="#000000" stroke-width="1.25"/>
<line x1="70.4" y1="438.5" x2="94.6" y2="438.5" stroke="#000000" stroke-width="1.25"/>
<line x1="108.1" y1="410.5" x2="132.3" y2="410.5" stroke="#000000" stroke-width="1.25"/>
<line x1="144.4" y1="433.5" x2="168" y2="433.5" stroke="#000000" stroke-width="1.25"/>
<line x1="180.8" y1="412.5" x2="205" y2="412.5" stroke="#000000" stroke-width="1.25"/>
<line x1="216" y1="407.5" x2="241" y2="407.5" stroke="#000000" stroke-width="1.25"/>
<line x1="252.3" y1="417.5" x2="277.1" y2="417.5" stroke="#000000" stroke-width="1.25"/>
<line x1="287.4" y1="415.5" x2="311" y2="415.5" stroke="#000000" stroke-width="1.25"/>
<line x1="330.4" y1="415.5" x2="354" y2="415.5" stroke="#000000" stroke-width="1.25"/>
<line x1="366" y1="421.5" x2="390.7" y2="421.5" stroke="#000000" stroke-width="1.25"/>
<rect x="44.20" y="398.80" width="6.0" height="6.0" fill="#ec1020" stroke="#6e5656" stroke-width="1"/>
<rect x="35.30" y="412.30" width="6.0" height="6.0" fill="#ec1020" stroke="#6e5656" stroke-width="1"/>
<rect x="44.20" y="415.80" width="6.0" height="6.0" fill="#ec1020" stroke="#6e5656" stroke-width="1"/>
<rect x="52.60" y="414.00" width="6.0" height="6.0" fill="#ec1020" stroke="#6e5656" stroke-width="1"/>
<rect x="44.20" y="429.20" width="6.0" height="6.0" fill="#ec1020" stroke="#6e5656" stroke-width="1"/>
<rect x="44.20" y="442.70" width="6.0" height="6.0" fill="#ec1020" stroke="#6e5656" stroke-width="1"/>
<circle cx="75.70" cy="410.80" r="2.6" fill="#ec1020" stroke="#500008" stroke-width="1"/>
<circle cx="83.70" cy="411.90" r="2.6" fill="#ec1020" stroke="#500008" stroke-width="1"/>
<circle cx="92.20" cy="411.90" r="2.6" fill="#ec1020" stroke="#500008" stroke-width="1"/>
<circle cx="83.70" cy="421.10" r="2.6" fill="#ec1020" stroke="#500008" stroke-width="1"/>
<circle cx="75.70" cy="439.00" r="2.6" fill="#ec1020" stroke="#500008" stroke-width="1"/>
<circle cx="83.70" cy="440.40" r="2.6" fill="#ec1020" stroke="#500008" stroke-width="1"/>
<circle cx="92.20" cy="439.30" r="2.6" fill="#ec1020" stroke="#500008" stroke-width="1"/>
<circle cx="83.70" cy="458.90" r="2.6" fill="#ec1020" stroke="#500008" stroke-width="1"/>
<circle cx="83.70" cy="470.00" r="2.6" fill="#ec1020" stroke="#500008" stroke-width="1"/>
<rect x="117.90" y="390.70" width="6.0" height="6.0" fill="#f6f21a" stroke="#7a7a40" stroke-width="1"/>
<rect x="117.90" y="405.10" width="6.0" height="6.0" fill="#f6f21a" stroke="#7a7a40" stroke-width="1"/>
<rect x="125.90" y="404.20" width="6.0" height="6.0" fill="#f6f21a" stroke="#7a7a40" stroke-width="1"/>
<rect x="109.40" y="412.30" width="6.0" height="6.0" fill="#f6f21a" stroke="#7a7a40" stroke-width="1"/>
<rect x="117.90" y="418.10" width="6.0" height="6.0" fill="#f6f21a" stroke="#7a7a40" stroke-width="1"/>
<rect x="117.90" y="427.80" width="6.0" height="6.0" fill="#f6f21a" stroke="#7a7a40" stroke-width="1"/>
<circle cx="149.50" cy="405.90" r="2.8" fill="#f6f21a" stroke="#5a5600" stroke-width="1"/>
<circle cx="157.60" cy="412.60" r="2.8" fill="#f6f21a" stroke="#5a5600" stroke-width="1"/>
<circle cx="149.50" cy="429.70" r="2.8" fill="#f6f21a" stroke="#5a5600" stroke-width="1"/>
<circle cx="157.60" cy="434.50" r="2.8" fill="#f6f21a" stroke="#5a5600" stroke-width="1"/>
<circle cx="166.00" cy="433.70" r="2.8" fill="#f6f21a" stroke="#5a5600" stroke-width="1"/>
<circle cx="166.00" cy="442.60" r="2.8" fill="#f6f21a" stroke="#5a5600" stroke-width="1"/>
<circle cx="149.50" cy="445.80" r="2.8" fill="#f6f21a" stroke="#5a5600" stroke-width="1"/>
<circle cx="157.60" cy="448.90" r="2.8" fill="#f6f21a" stroke="#5a5600" stroke-width="1"/>
<circle cx="157.40" cy="479.60" r="2.8" fill="#f6f21a" stroke="#5a5600" stroke-width="1"/>
<rect x="190.90" y="385.40" width="5.4" height="5.4" fill="#1010c4" stroke="#8484d0" stroke-width="1"/>
<rect x="182.40" y="390.10" width="5.4" height="5.4" fill="#1010c4" stroke="#8484d0" stroke-width="1"/>
<rect x="190.90" y="394.10" width="5.4" height="5.4" fill="#1010c4" stroke="#8484d0" stroke-width="1"/>
<rect x="199.30" y="393.20" width="5.4" height="5.4" fill="#1010c4" stroke="#8484d0" stroke-width="1"/>
<rect x="190.90" y="403.10" width="5.4" height="5.4" fill="#1010c4" stroke="#8484d0" stroke-width="1"/>
<rect x="194.90" y="408.50" width="5.4" height="5.4" fill="#1010c4" stroke="#8484d0" stroke-width="1"/>
<rect x="182.40" y="410.30" width="5.4" height="5.4" fill="#1010c4" stroke="#8484d0" stroke-width="1"/>
<rect x="190.90" y="413.00" width="5.4" height="5.4" fill="#1010c4" stroke="#8484d0" stroke-width="1"/>
<rect x="199.30" y="413.00" width="5.4" height="5.4" fill="#1010c4" stroke="#8484d0" stroke-width="1"/>
<rect x="182.40" y="418.30" width="5.4" height="5.4" fill="#1010c4" stroke="#8484d0" stroke-width="1"/>
<rect x="190.90" y="421.40" width="5.4" height="5.4" fill="#1010c4" stroke="#8484d0" stroke-width="1"/>
<rect x="190.90" y="439.90" width="5.4" height="5.4" fill="#1010c4" stroke="#8484d0" stroke-width="1"/>
<circle cx="221.00" cy="397.90" r="2.55" fill="#1010c4" stroke="#000060" stroke-width="1"/>
<circle cx="229.00" cy="400.00" r="2.55" fill="#1010c4" stroke="#000060" stroke-width="1"/>
<circle cx="237.40" cy="397.30" r="2.55" fill="#1010c4" stroke="#000060" stroke-width="1"/>
<circle cx="225.20" cy="403.60" r="2.55" fill="#1010c4" stroke="#000060" stroke-width="1"/>
<circle cx="233.30" cy="403.60" r="2.55" fill="#1010c4" stroke="#000060" stroke-width="1"/>
<circle cx="221.00" cy="406.50" r="2.55" fill="#1010c4" stroke="#000060" stroke-width="1"/>
<circle cx="229.00" cy="409.20" r="2.55" fill="#1010c4" stroke="#000060" stroke-width="1"/>
<circle cx="237.40" cy="407.20" r="2.55" fill="#1010c4" stroke="#000060" stroke-width="1"/>
<circle cx="221.00" cy="415.00" r="2.55" fill="#1010c4" stroke="#000060" stroke-width="1"/>
<circle cx="221.00" cy="417.40" r="2.55" fill="#1010c4" stroke="#000060" stroke-width="1"/>
<circle cx="229.00" cy="419.60" r="2.55" fill="#1010c4" stroke="#000060" stroke-width="1"/>
<circle cx="237.40" cy="417.00" r="2.55" fill="#1010c4" stroke="#000060" stroke-width="1"/>
<circle cx="229.00" cy="431.60" r="2.55" fill="#1010c4" stroke="#000060" stroke-width="1"/>
<circle cx="221.00" cy="445.40" r="2.55" fill="#1010c4" stroke="#000060" stroke-width="1"/>
<circle cx="229.00" cy="450.00" r="2.55" fill="#1010c4" stroke="#000060" stroke-width="1"/>
<circle cx="229.00" cy="470.00" r="2.55" fill="#1010c4" stroke="#000060" stroke-width="1"/>
<circle cx="237.40" cy="469.30" r="2.55" fill="#1010c4" stroke="#000060" stroke-width="1"/>
<rect x="262.30" y="390.30" width="6.0" height="6.0" fill="#2ae42a" stroke="#6a9a6a" stroke-width="1"/>
<rect x="262.30" y="402.50" width="6.0" height="6.0" fill="#2ae42a" stroke="#6a9a6a" stroke-width="1"/>
<rect x="262.30" y="411.30" width="6.0" height="6.0" fill="#2ae42a" stroke="#6a9a6a" stroke-width="1"/>
<rect x="253.90" y="418.00" width="6.0" height="6.0" fill="#2ae42a" stroke="#6a9a6a" stroke-width="1"/>
<rect x="270.30" y="421.40" width="6.0" height="6.0" fill="#2ae42a" stroke="#6a9a6a" stroke-width="1"/>
<rect x="262.10" y="425.60" width="6.0" height="6.0" fill="#2ae42a" stroke="#6a9a6a" stroke-width="1"/>
<circle cx="300.40" cy="403.80" r="2.8" fill="#2ae42a" stroke="#0a4a0a" stroke-width="1"/>
<circle cx="309.00" cy="408.20" r="2.8" fill="#2ae42a" stroke="#0a4a0a" stroke-width="1"/>
<circle cx="300.40" cy="412.90" r="2.8" fill="#2ae42a" stroke="#0a4a0a" stroke-width="1"/>
<circle cx="291.80" cy="415.20" r="2.8" fill="#2ae42a" stroke="#0a4a0a" stroke-width="1"/>
<circle cx="309.00" cy="416.40" r="2.8" fill="#2ae42a" stroke="#0a4a0a" stroke-width="1"/>
<circle cx="300.40" cy="421.50" r="2.8" fill="#2ae42a" stroke="#0a4a0a" stroke-width="1"/>
<circle cx="300.40" cy="438.80" r="2.8" fill="#2ae42a" stroke="#0a4a0a" stroke-width="1"/>
<circle cx="300.40" cy="460.40" r="2.8" fill="#2ae42a" stroke="#0a4a0a" stroke-width="1"/>
<circle cx="300.40" cy="478.00" r="2.8" fill="#2ae42a" stroke="#0a4a0a" stroke-width="1"/>
<rect x="339.80" y="399.40" width="6.0" height="6.0" fill="#ec6414" stroke="#8a7060" stroke-width="1"/>
<rect x="331.20" y="412.50" width="6.0" height="6.0" fill="#ec6414" stroke="#8a7060" stroke-width="1"/>
<rect x="347.60" y="410.20" width="6.0" height="6.0" fill="#ec6414" stroke="#8a7060" stroke-width="1"/>
<rect x="339.80" y="416.00" width="6.0" height="6.0" fill="#ec6414" stroke="#8a7060" stroke-width="1"/>
<rect x="339.80" y="448.30" width="6.0" height="6.0" fill="#ec6414" stroke="#8a7060" stroke-width="1"/>
<circle cx="371.00" cy="420.30" r="2.8" fill="#ec6414" stroke="#4a1a00" stroke-width="1"/>
<circle cx="371.00" cy="422.60" r="2.8" fill="#ec6414" stroke="#4a1a00" stroke-width="1"/>
<circle cx="387.20" cy="420.80" r="2.8" fill="#ec6414" stroke="#4a1a00" stroke-width="1"/>
<circle cx="379.10" cy="427.30" r="2.8" fill="#ec6414" stroke="#4a1a00" stroke-width="1"/>
<circle cx="379.10" cy="449.50" r="2.8" fill="#ec6414" stroke="#4a1a00" stroke-width="1"/>
</g>
<g filter="url(#tx)">
<text x="4.00" y="9.80" font-size="12.4" text-anchor="start" font-weight="bold" fill="#000" stroke="#000" stroke-width="0.25">A</text>
<text x="3.20" y="201.20" font-size="12" text-anchor="start" font-weight="bold" fill="#000" stroke="#000" stroke-width="0.25">B</text>
<text x="2.60" y="366.20" font-size="12" text-anchor="start" font-weight="bold" fill="#000" stroke="#000" stroke-width="0.25">C</text>
<text x="27.20" y="25.70" font-size="9.4" text-anchor="end" font-weight="normal" fill="#000000" stroke="#000000" stroke-width="0.2">100</text>
<text x="27.20" y="72.70" font-size="9.4" text-anchor="end" font-weight="normal" fill="#000000" stroke="#000000" stroke-width="0.2">10</text>
<text x="27.20" y="118.70" font-size="9.4" text-anchor="end" font-weight="normal" fill="#000000" stroke="#000000" stroke-width="0.2">1</text>
<text x="27.20" y="165.70" font-size="9.4" text-anchor="end" font-weight="normal" fill="#000000" stroke="#000000" stroke-width="0.2">0.1</text>
<text x="27.20" y="322.70" font-size="9.4" text-anchor="end" font-weight="normal" fill="#000000" stroke="#000000" stroke-width="0.2">0</text>
<text x="27.20" y="306.70" font-size="9.4" text-anchor="end" font-weight="normal" fill="#000000" stroke="#000000" stroke-width="0.2">10</text>
<text x="27.20" y="291.70" font-size="9.4" text-anchor="end" font-weight="normal" fill="#000000" stroke="#000000" stroke-width="0.2">20</text>
<text x="27.20" y="275.70" font-size="9.4" text-anchor="end" font-weight="normal" fill="#000000" stroke="#000000" stroke-width="0.2">30</text>
<text x="27.20" y="260.70" font-size="9.4" text-anchor="end" font-weight="normal" fill="#000000" stroke="#000000" stroke-width="0.2">40</text>
<text x="27.20" y="244.70" font-size="9.4" text-anchor="end" font-weight="normal" fill="#000000" stroke="#000000" stroke-width="0.2">50</text>
<text x="27.20" y="229.70" font-size="9.4" text-anchor="end" font-weight="normal" fill="#000000" stroke="#000000" stroke-width="0.2">60</text>
<text x="27.20" y="213.70" font-size="9.4" text-anchor="end" font-weight="normal" fill="#000000" stroke="#000000" stroke-width="0.2">70</text>
<text x="27.20" y="489.70" font-size="9.4" text-anchor="end" font-weight="normal" fill="#000000" stroke="#000000" stroke-width="0.2">0</text>
<text x="27.20" y="461.70" font-size="9.4" text-anchor="end" font-weight="normal" fill="#000000" stroke="#000000" stroke-width="0.2">25</text>
<text x="27.20" y="434.70" font-size="9.4" text-anchor="end" font-weight="normal" fill="#000000" stroke="#000000" stroke-width="0.2">50</text>
<text x="27.20" y="407.70" font-size="9.4" text-anchor="end" font-weight="normal" fill="#000000" stroke="#000000" stroke-width="0.2">75</text>
<text x="27.20" y="379.70" font-size="9.4" text-anchor="end" font-weight="normal" fill="#000000" stroke="#000000" stroke-width="0.2">100</text>
<text x="10.50" y="89.30" font-size="9.4" text-anchor="middle" font-weight="normal" fill="#000000" stroke="#000000" stroke-width="0.2" transform="rotate(-90 10.50 89.30)">V&#948;1/V&#948;2</text>
<text x="7.80" y="263.30" font-size="9.6" text-anchor="middle" font-weight="normal" fill="#000000" stroke="#000000" stroke-width="0.2" transform="rotate(-90 7.80 263.30)">%V&#948;1 CD28+CCR5+</text>
<text x="8.30" y="430.50" font-size="9.6" text-anchor="middle" font-weight="normal" fill="#000000" stroke="#000000" stroke-width="0.2" transform="rotate(-90 8.30 430.50)">%V&#948;2 CD28+CCR5+</text>
<text x="53.60" y="184.10" font-size="9.7" text-anchor="start" font-weight="normal" fill="#000000" stroke="#000000" stroke-width="0.2" transform="rotate(-90 53.60 184.10)">SIV-</text>
<text x="122.80" y="184.10" font-size="9.7" text-anchor="start" font-weight="normal" fill="#000000" stroke="#000000" stroke-width="0.2" transform="rotate(-90 122.80 184.10)">SIV-</text>
<text x="191.60" y="184.10" font-size="9.7" text-anchor="start" font-weight="normal" fill="#000000" stroke="#000000" stroke-width="0.2" transform="rotate(-90 191.60 184.10)">SIV-</text>
<text x="262.70" y="184.10" font-size="9.7" text-anchor="start" font-weight="normal" fill="#000000" stroke="#000000" stroke-width="0.2" transform="rotate(-90 262.70 184.10)">SIV-</text>
<text x="332.50" y="184.10" font-size="9.7" text-anchor="start" font-weight="normal" fill="#000000" stroke="#000000" stroke-width="0.2" transform="rotate(-90 332.50 184.10)">SIV-</text>
<text x="403.00" y="184.10" font-size="9.7" text-anchor="start" font-weight="normal" fill="#000000" stroke="#000000" stroke-width="0.2" transform="rotate(-90 403.00 184.10)">SIV-</text>
<text x="472.30" y="184.10" font-size="9.7" text-anchor="start" font-weight="normal" fill="#000000" stroke="#000000" stroke-width="0.2" transform="rotate(-90 472.30 184.10)">SIV-</text>
<text x="88.00" y="184.10" font-size="9.7" text-anchor="start" font-weight="normal" fill="#000000" stroke="#000000" stroke-width="0.2" transform="rotate(-90 88.00 184.10)">SIV+</text>
<text x="158.70" y="184.10" font-size="9.7" text-anchor="start" font-weight="normal" fill="#000000" stroke="#000000" stroke-width="0.2" transform="rotate(-90 158.70 184.10)">SIV+</text>
<text x="228.70" y="184.10" font-size="9.7" text-anchor="start" font-weight="normal" fill="#000000" stroke="#000000" stroke-width="0.2" transform="rotate(-90 228.70 184.10)">SIV+</text>
<text x="297.90" y="184.10" font-size="9.7" text-anchor="start" font-weight="normal" fill="#000000" stroke="#000000" stroke-width="0.2" transform="rotate(-90 297.90 184.10)">SIV+</text>
<text x="367.40" y="184.10" font-size="9.7" text-anchor="start" font-weight="normal" fill="#000000" stroke="#000000" stroke-width="0.2" transform="rotate(-90 367.40 184.10)">SIV+</text>
<text x="437.50" y="184.10" font-size="9.7" text-anchor="start" font-weight="normal" fill="#000000" stroke="#000000" stroke-width="0.2" transform="rotate(-90 437.50 184.10)">SIV+</text>
<text x="506.80" y="184.10" font-size="9.7" text-anchor="start" font-weight="normal" fill="#000000" stroke="#000000" stroke-width="0.2" transform="rotate(-90 506.80 184.10)">SIV+</text>
<text x="69.70" y="193.20" font-size="9" text-anchor="middle" font-weight="normal" fill="#000000" stroke="#000000" stroke-width="0.2">Blood</text>
<text x="139.00" y="193.20" font-size="9" text-anchor="middle" font-weight="normal" fill="#000000" stroke="#000000" stroke-width="0.2">Spleen</text>
<text x="205.20" y="193.20" font-size="9" text-anchor="middle" font-weight="normal" fill="#000000" stroke="#000000" stroke-width="0.2">Ax/Ing LN</text>
<text x="278.30" y="193.20" font-size="9" text-anchor="middle" font-weight="normal" fill="#000000" stroke="#000000" stroke-width="0.2">Mes LN</text>
<text x="348.90" y="193.20" font-size="9" text-anchor="middle" font-weight="normal" fill="#000000" stroke="#000000" stroke-width="0.2">Duod/Jej/Ileum</text>
<text x="422.40" y="193.20" font-size="9" text-anchor="middle" font-weight="normal" fill="#000000" stroke="#000000" stroke-width="0.2">Cecum/Colon</text>
<text x="488.60" y="193.20" font-size="9" text-anchor="middle" font-weight="normal" fill="#000000" stroke="#000000" stroke-width="0.2">BAL</text>
<text x="46.90" y="345.20" font-size="9.7" text-anchor="start" font-weight="normal" fill="#000000" stroke="#000000" stroke-width="0.2" transform="rotate(-90 46.90 345.20)">SIV-</text>
<text x="114.80" y="345.20" font-size="9.7" text-anchor="start" font-weight="normal" fill="#000000" stroke="#000000" stroke-width="0.2" transform="rotate(-90 114.80 345.20)">SIV-</text>
<text x="183.30" y="345.20" font-size="9.7" text-anchor="start" font-weight="normal" fill="#000000" stroke="#000000" stroke-width="0.2" transform="rotate(-90 183.30 345.20)">SIV-</text>
<text x="253.90" y="345.20" font-size="9.7" text-anchor="start" font-weight="normal" fill="#000000" stroke="#000000" stroke-width="0.2" transform="rotate(-90 253.90 345.20)">SIV-</text>
<text x="321.90" y="345.20" font-size="9.7" text-anchor="start" font-weight="normal" fill="#000000" stroke="#000000" stroke-width="0.2" transform="rotate(-90 321.90 345.20)">SIV-</text>
<text x="390.50" y="345.20" font-size="9.7" text-anchor="start" font-weight="normal" fill="#000000" stroke="#000000" stroke-width="0.2" transform="rotate(-90 390.50 345.20)">SIV-</text>
<text x="459.60" y="345.20" font-size="9.7" text-anchor="start" font-weight="normal" fill="#000000" stroke="#000000" stroke-width="0.2" transform="rotate(-90 459.60 345.20)">SIV-</text>
<text x="81.10" y="345.20" font-size="9.7" text-anchor="start" font-weight="normal" fill="#000000" stroke="#000000" stroke-width="0.2" transform="rotate(-90 81.10 345.20)">SIV+</text>
<text x="149.90" y="345.20" font-size="9.7" text-anchor="start" font-weight="normal" fill="#000000" stroke="#000000" stroke-width="0.2" transform="rotate(-90 149.90 345.20)">SIV+</text>
<text x="217.80" y="345.20" font-size="9.7" text-anchor="start" font-weight="normal" fill="#000000" stroke="#000000" stroke-width="0.2" transform="rotate(-90 217.80 345.20)">SIV+</text>
<text x="287.00" y="345.20" font-size="9.7" text-anchor="start" font-weight="normal" fill="#000000" stroke="#000000" stroke-width="0.2" transform="rotate(-90 287.00 345.20)">SIV+</text>
<text x="355.70" y="345.20" font-size="9.7" text-anchor="start" font-weight="normal" fill="#000000" stroke="#000000" stroke-width="0.2" transform="rotate(-90 355.70 345.20)">SIV+</text>
<text x="423.90" y="345.20" font-size="9.7" text-anchor="start" font-weight="normal" fill="#000000" stroke="#000000" stroke-width="0.2" transform="rotate(-90 423.90 345.20)">SIV+</text>
<text x="493.30" y="345.20" font-size="9.7" text-anchor="start" font-weight="normal" fill="#000000" stroke="#000000" stroke-width="0.2" transform="rotate(-90 493.30 345.20)">SIV+</text>
<text x="63.00" y="355.80" font-size="9" text-anchor="middle" font-weight="normal" fill="#000000" stroke="#000000" stroke-width="0.2">Blood</text>
<text x="131.00" y="355.80" font-size="9" text-anchor="middle" font-weight="normal" fill="#000000" stroke="#000000" stroke-width="0.2">Spleen</text>
<text x="201.50" y="355.80" font-size="9" text-anchor="middle" font-weight="normal" fill="#000000" stroke="#000000" stroke-width="0.2">Ax/Ing LN</text>
<text x="270.40" y="355.80" font-size="9" text-anchor="middle" font-weight="normal" fill="#000000" stroke="#000000" stroke-width="0.2">Mes LN</text>
<text x="337.10" y="355.80" font-size="9" text-anchor="middle" font-weight="normal" fill="#000000" stroke="#000000" stroke-width="0.2">Duod/Jej/Ileum</text>
<text x="406.00" y="355.80" font-size="9" text-anchor="middle" font-weight="normal" fill="#000000" stroke="#000000" stroke-width="0.2">Cecum/Colon</text>
<text x="474.50" y="355.80" font-size="9" text-anchor="middle" font-weight="normal" fill="#000000" stroke="#000000" stroke-width="0.2">BAL</text>
<text x="48.40" y="510.20" font-size="9.7" text-anchor="start" font-weight="normal" fill="#000000" stroke="#000000" stroke-width="0.2" transform="rotate(-90 48.40 510.20)">SIV-</text>
<text x="122.80" y="510.20" font-size="9.7" text-anchor="start" font-weight="normal" fill="#000000" stroke="#000000" stroke-width="0.2" transform="rotate(-90 122.80 510.20)">SIV-</text>
<text x="193.90" y="510.20" font-size="9.7" text-anchor="start" font-weight="normal" fill="#000000" stroke="#000000" stroke-width="0.2" transform="rotate(-90 193.90 510.20)">SIV-</text>
<text x="265.90" y="510.20" font-size="9.7" text-anchor="start" font-weight="normal" fill="#000000" stroke="#000000" stroke-width="0.2" transform="rotate(-90 265.90 510.20)">SIV-</text>
<text x="344.30" y="510.20" font-size="9.7" text-anchor="start" font-weight="normal" fill="#000000" stroke="#000000" stroke-width="0.2" transform="rotate(-90 344.30 510.20)">SIV-</text>
<text x="84.70" y="510.20" font-size="9.7" text-anchor="start" font-weight="normal" fill="#000000" stroke="#000000" stroke-width="0.2" transform="rotate(-90 84.70 510.20)">SIV+</text>
<text x="158.80" y="510.20" font-size="9.7" text-anchor="start" font-weight="normal" fill="#000000" stroke="#000000" stroke-width="0.2" transform="rotate(-90 158.80 510.20)">SIV+</text>
<text x="229.30" y="510.20" font-size="9.7" text-anchor="start" font-weight="normal" fill="#000000" stroke="#000000" stroke-width="0.2" transform="rotate(-90 229.30 510.20)">SIV+</text>
<text x="303.20" y="510.20" font-size="9.7" text-anchor="start" font-weight="normal" fill="#000000" stroke="#000000" stroke-width="0.2" transform="rotate(-90 303.20 510.20)">SIV+</text>
<text x="380.70" y="510.20" font-size="9.7" text-anchor="start" font-weight="normal" fill="#000000" stroke="#000000" stroke-width="0.2" transform="rotate(-90 380.70 510.20)">SIV+</text>
<text x="64.40" y="520.70" font-size="9" text-anchor="middle" font-weight="normal" fill="#000000" stroke="#000000" stroke-width="0.2">Blood</text>
<text x="136.40" y="520.70" font-size="9" text-anchor="middle" font-weight="normal" fill="#000000" stroke="#000000" stroke-width="0.2">Spleen</text>
<text x="210.30" y="520.70" font-size="9" text-anchor="middle" font-weight="normal" fill="#000000" stroke="#000000" stroke-width="0.2">Ax/Ing LN</text>
<text x="282.40" y="520.70" font-size="9" text-anchor="middle" font-weight="normal" fill="#000000" stroke="#000000" stroke-width="0.2">Mes LN</text>
<text x="360.10" y="520.70" font-size="9" text-anchor="middle" font-weight="normal" fill="#000000" stroke="#000000" stroke-width="0.2">BAL</text>
<text x="54.00" y="62.60" font-size="10.4" text-anchor="start" font-weight="normal" fill="#000000" stroke="#000000" stroke-width="0.2" textLength="30" lengthAdjust="spacingAndGlyphs">P=0.04</text>
<text x="187.50" y="52.40" font-size="10.4" text-anchor="start" font-weight="normal" fill="#000000" stroke="#000000" stroke-width="0.2" textLength="30.3" lengthAdjust="spacingAndGlyphs">P=0.02</text>
<text x="330.90" y="118.80" font-size="10.4" text-anchor="start" font-weight="normal" fill="#000000" stroke="#000000" stroke-width="0.2" textLength="30.2" lengthAdjust="spacingAndGlyphs">P=0.03</text>
<text x="107.60" y="263.00" font-size="10.4" text-anchor="start" font-weight="normal" fill="#000000" stroke="#000000" stroke-width="0.2" textLength="41.2" lengthAdjust="spacingAndGlyphs">P=0.0075</text>
<text x="375.80" y="264.10" font-size="10.4" text-anchor="start" font-weight="normal" fill="#000000" stroke="#000000" stroke-width="0.2" textLength="41.2" lengthAdjust="spacingAndGlyphs">P=0.0058</text>
</g>
</svg>
</body></html>
